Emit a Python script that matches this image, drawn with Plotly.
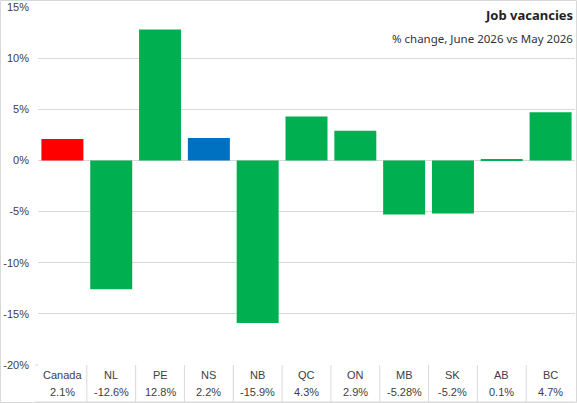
import plotly.graph_objects as go

categories = ["Canada", "NL", "PE", "NS", "NB", "QC", "ON", "MB", "SK", "AB", "BC"]
values = [2.1, -12.6, 12.8, 2.2, -15.9, 4.3, 2.9, -5.28, -5.2, 0.1, 4.7]
bar_colors = ["#FF0000", "#00B050", "#00B050", "#0070C0", "#00B050", "#00B050",
              "#00B050", "#00B050", "#00B050", "#00B050", "#00B050"]
y_ticks = [-20, -15, -10, -5, 0, 5, 10, 15]
y_tick_labels = ["-20%", "-15%", "-10%", "-5%", "0%", "5%", "10%", "15%"]

W, H = 577, 403
ml, mr, mt, mb = 38, 2, 7, 38
plot_h = H - mt - mb
plot_w = W - ml - mr
grid = "#d9d9d9"
txt = "#404040"

fig = go.Figure()
fig.add_trace(go.Bar(x=categories, y=values, marker=dict(color=bar_colors, line=dict(width=0)),
                     hoverinfo="x+y"))

# data table under the chart: category row + value row
annotations = []
for cat, v in zip(categories, values):
    annotations.append(dict(x=cat, y=-10 / plot_h, xref="x", yref="paper", text=cat,
                            showarrow=False, font=dict(size=11, color=txt,
                            family="Liberation Sans"), yanchor="middle"))
    annotations.append(dict(x=cat, y=-27 / plot_h, xref="x", yref="paper", text=f"{v:g}%",
                            showarrow=False, font=dict(size=11, color=txt,
                            family="Liberation Sans"), yanchor="middle"))

annotations.append(dict(x=1, y=(plot_h + mt - 15) / plot_h, xref="paper", yref="paper",
                        text="<b>Job vacancies</b>", showarrow=False, xanchor="right",
                        yanchor="middle", font=dict(size=13, color="#222", family="Noto Sans")))
annotations.append(dict(x=1, y=(plot_h + mt - 38) / plot_h, xref="paper", yref="paper",
                        text="% change, June 2026 vs May 2026", showarrow=False, xanchor="right",
                        yanchor="middle", font=dict(size=11.5, color="#333", family="Noto Sans")))

shapes = []
for i in range(1, len(categories)):
    shapes.append(dict(type="line", xref="x", yref="paper", x0=i - 0.5, x1=i - 0.5,
                       y0=0, y1=-(mb - 1) / plot_h, line=dict(color=grid, width=1)))
shapes.append(dict(type="line", xref="paper", yref="paper", x0=-3 / plot_w, x1=1,
                   y0=-(mb - 1) / plot_h, y1=-(mb - 1) / plot_h, line=dict(color=grid, width=1)))
shapes.append(dict(type="line", xref="paper", yref="paper", x0=-3 / plot_w, x1=0,
                   y0=0, y1=0, line=dict(color=grid, width=1)))
# chart border
shapes.append(dict(type="rect", xref="paper", yref="paper",
                   x0=-(ml - 0.5) / plot_w, x1=1 + (mr - 0.5) / plot_w,
                   y0=-(mb - 0.5) / plot_h, y1=1 + (mt - 0.5) / plot_h,
                   line=dict(color=grid, width=1)))

fig.update_layout(
    width=W, height=H,
    margin=dict(l=ml, r=mr, t=mt, b=mb),
    paper_bgcolor="white", plot_bgcolor="white",
    showlegend=False, bargap=0.14,
    annotations=annotations, shapes=shapes,
    xaxis=dict(showticklabels=False, showgrid=False, zeroline=False, showline=False,
               range=[-0.5, len(categories) - 0.5]),
    yaxis=dict(range=[-20, 15], tickvals=y_ticks, ticktext=y_tick_labels, showgrid=True,
               gridcolor=grid, gridwidth=1, zeroline=True, zerolinecolor=grid,
               zerolinewidth=1, showline=False, ticklabelstandoff=8,
               tickfont=dict(size=11, color=txt, family="Liberation Sans")),
)

fig.write_html("out.html", config={"displayModeBar": False},
               post_script="document.body.style.margin='0';"
               "document.body.style.overflow='hidden';")
